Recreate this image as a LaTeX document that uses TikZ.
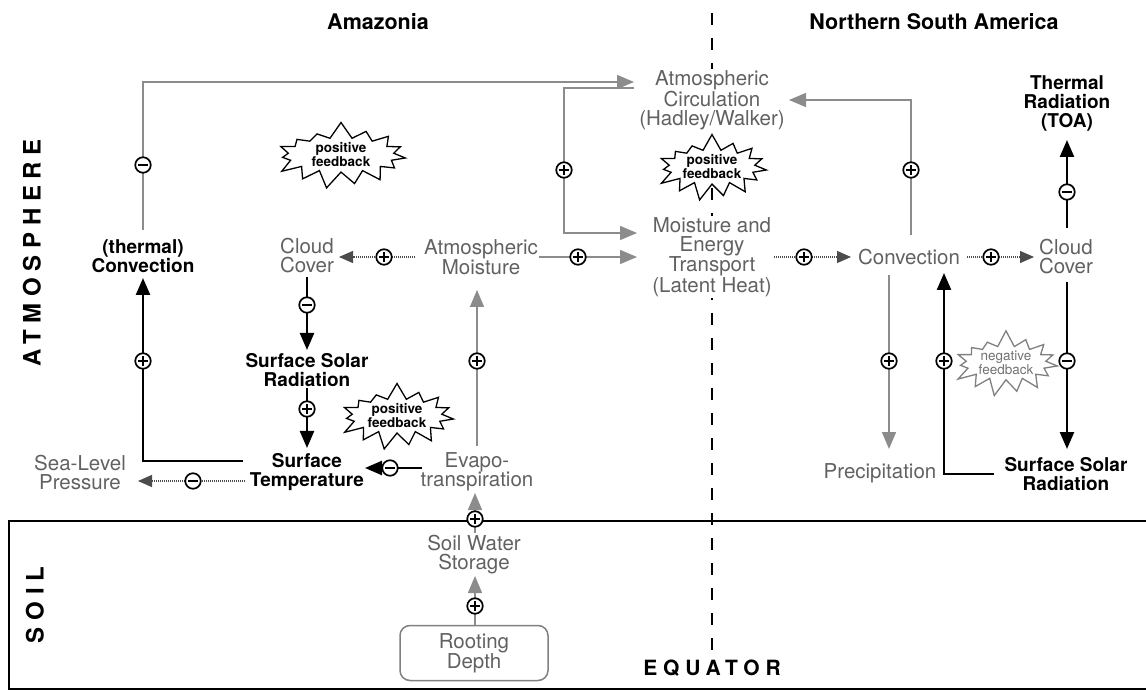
\documentclass[tikz,border=0pt]{standalone}
\usepackage{fontspec}
\setmainfont{TeX Gyre Heros}
\newfontfamily\widefont[LetterSpace=28]{TeX Gyre Heros}
\usetikzlibrary{arrows.meta,calc,shapes.symbols}
\newcommand{\fsz}[1]{\fontsize{#1}{19}\selectfont}

\begin{document}
\begin{tikzpicture}[x=1pt, y=-1pt,
  bk/.style={align=center, font=\bfseries\fsz{19}, inner sep=1pt},
  gy/.style={align=center, font=\fsz{20.5}, text=black!62, inner sep=1pt},
  ttl/.style={font=\bfseries\fontsize{21.5}{22}\selectfont},
  side/.style={font=\widefont\bfseries\fontsize{24}{24}\selectfont, rotate=90, inner sep=0pt},
  burst/.style={starburst, starburst points=15, starburst point height=17pt, random starburst=7, draw, line width=1.3pt, fill=white, align=center, font=\bfseries\fontsize{13.5}{14}\selectfont, inner sep=0pt},
  sg/.style={circle, draw, line width=1.7pt, fill=white, minimum size=15.5pt, inner sep=0pt},
  pl/.style={sg, path picture={\draw[line width=1.6pt] ($(path picture bounding box.center)+(-5,0)$) -- +(10,0) ($(path picture bounding box.center)+(0,-5)$) -- +(0,10);}},
  mi/.style={sg, path picture={\draw[line width=1.6pt] ($(path picture bounding box.center)+(-5,0)$) -- +(10,0);}},
  barr/.style={-{Triangle[length=17pt, width=14pt]}, line width=2.4pt},
  garr/.style={-{Triangle[length=17pt, width=14pt]}, line width=1.5pt, black!45},
  darr/.style={-{Triangle[length=14pt, width=12pt]}, line width=1.3pt, dash pattern=on 1pt off 1pt, black!70}
]
  \useasboundingbox (0,0) rectangle (1146,692);

  % headings and side labels
  \node[ttl] (amaz) at (378,22) {Amazonia};
  \node[ttl] (nsa) at (934,22) {Northern South America};
  \node[side] (atm) at (32,253) {ATMOSPHERE};
  \node[side] (soil) at (35,605) {SOIL};
  \node[font=\widefont\bfseries\fontsize{21}{21}\selectfont, inner sep=0pt] (eq) at (712,668) {EQUATOR};

  % equator and soil layer
  \coordinate (eqtop) at (712,13);
  \draw[line width=2.4pt, dash pattern=on 12pt off 13pt] (eqtop) -- (eq.north);
  \draw[line width=2pt] (1146,521) -- (9,521) -- (9,689) -- (1146,689);

  % Amazonia
  \node[bk] (thconv) at (143,256) {(thermal)\\Convection};
  \node[gy] (ccl) at (307,256) {Cloud\\Cover};
  \node[gy] (amoist) at (481,257) {Atmospheric\\Moisture};
  \node[bk] (ssrl) at (307,370) {Surface Solar\\Radiation};
  \node[bk] (stemp) at (307,472) {Surface\\Temperature};
  \node[gy] (slp) at (80,472) {Sea-Level\\Pressure};
  \node[gy] (evap) at (477,472) {Evapo-\\transpiration};
  \node[gy] (sws) at (474,555) {Soil Water\\Storage};
  \node[gy, draw=black!50, line width=1.5pt, rounded corners=10pt, minimum width=148pt, minimum height=55pt] (root) at (474,653) {Rooting\\Depth};

  % across the equator
  \node[gy, fill=white] (acirc) at (712,100) {Atmospheric\\Circulation\\(Hadley/Walker)};
  \node[gy, fill=white] (metr) at (712,257) {Moisture and\\Energy\\Transport\\(Latent Heat)};

  % Northern South America
  \node[gy] (conv) at (909,257) {Convection};
  \node[gy] (ccr) at (1066,257) {Cloud\\Cover};
  \node[bk] (toa) at (1067,103) {Thermal\\Radiation\\(TOA)};
  \node[gy] (prec) at (880,473) {Precipitation};
  \node[bk] (ssrr) at (1066,474) {Surface Solar\\Radiation};

  % feedback labels
  \node[burst, minimum width=140pt, minimum height=64pt] (fb1) at (341,155) {positive\\feedback};
  \node[burst, minimum width=120pt, minimum height=60pt] (fb2) at (712,167) {positive\\feedback};
  \node[burst, minimum width=124pt, minimum height=66pt] (fb3) at (397,416) {positive\\feedback};
  \node[burst, draw=black!50, text=black!55, font=\fontsize{13.5}{14}\selectfont, minimum width=114pt, minimum height=62pt] (nfb) at (1006,363) {negative\\feedback};

  % links, Amazonia side
  \draw[garr] ($(thconv)+(0,-26)$) |- ($(acirc)+(-78,-18)$);
  \draw[garr] ($(acirc)+(-78,-12)$) -- ++(-70,0) |- ($(metr)+(-75,-24)$);
  \draw[garr] ($(amoist)+(58,0)$) -- ($(metr)+(-75,0)$);
  \draw[darr] ($(amoist)+(-66,0)$) -- ($(ccl)+(32,1)$);
  \draw[barr] ($(ccl)+(0,21)$) -- ($(ssrl)+(0,-20)$);
  \draw[barr] ($(ssrl)+(0,18)$) -- ($(stemp)+(0,-24)$);
  \draw[barr] ($(evap)+(-55,-4)$) -- ($(stemp)+(58,-4)$);
  \draw[darr] ($(stemp)+(-62,9)$) -- ($(slp)+(58,9)$);
  \draw[barr] ($(stemp)+(-64,-11)$) -| ($(thconv)+(0,22)$);
  \draw[garr] ($(evap)+(0,-26)$) -- ($(amoist)+(-4,33)$);
  \draw[garr] ($(sws)+(1,-22)$) -- ($(evap)+(-2,21)$);
  \draw[garr] ($(root.north)+(1,0)$) -- ($(sws)+(1,21)$);

  % links, northern side
  \draw[darr] ($(metr)+(62,0)$) -- ($(conv)+(-58,0)$);
  \draw[darr] ($(conv)+(58,0)$) -- ($(ccr)+(-32,0)$);
  \draw[garr] ($(conv)+(2,-22)$) |- ($(acirc)+(77,0)$);
  \draw[barr] ($(ccr)+(1,-29)$) -- ($(toa)+(0,37)$);
  \draw[garr] ($(conv)+(-20,18)$) -- ($(prec)+(9,-24)$);
  \draw[barr] ($(ssrr)+(-72,0)$) -| ($(conv)+(35,16)$);
  \draw[barr] ($(ccr)+(1,25)$) -- ($(ssrr)+(1,-25)$);

  % signs on the links
  \node[mi] (m1) at (143,165) {};
  \node[pl] (p1) at (564,170) {};
  \node[pl] (p2) at (578,257) {};
  \node[pl] (p3) at (384,257) {};
  \node[mi] (m2) at (307,305) {};
  \node[pl] (p4) at (143,361) {};
  \node[pl] (p5) at (307,409) {};
  \node[mi] (m3) at (390,468) {};
  \node[mi] (m4) at (193,481) {};
  \node[pl] (p6) at (477,361) {};
  \node[pl] (p7) at (475,519) {};
  \node[pl] (p8) at (475,606) {};
  \node[pl] (p9) at (804,257) {};
  \node[pl] (p10) at (991,257) {};
  \node[pl] (p11) at (911,170) {};
  \node[mi] (m5) at (1067,192) {};
  \node[pl] (p12) at (889,361) {};
  \node[pl] (p13) at (944,361) {};
  \node[mi] (m6) at (1067,361) {};
\end{tikzpicture}
\end{document}
